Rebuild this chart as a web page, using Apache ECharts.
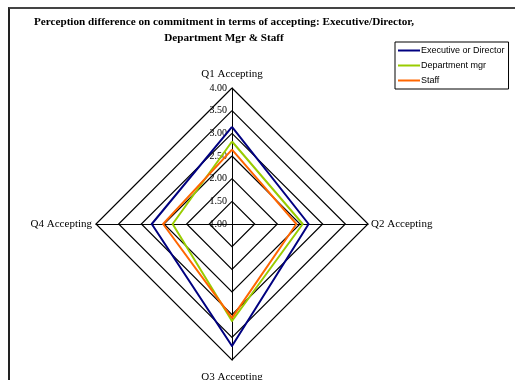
<!DOCTYPE html>
<html>
<head>
<meta charset="utf-8">
<script src="https://cdn.jsdelivr.net/npm/echarts@6/dist/echarts.min.js"></script>
<style>
  html, body { margin: 0; padding: 0; background: #fff; }
  #frame { position: absolute; left: 8px; top: 7px; width: 520px; height: 390px;
           border-left: 2px solid #222; border-top: 2px solid #444; }
  #chart { position: absolute; left: 0; top: 0; width: 515px; height: 380px; }
</style>
</head>
<body>
<div id="frame"></div>
<div id="chart"></div>
<script>
// categories, clockwise from the top
var questions = ['Q1 Accepting', 'Q2 Accepting', 'Q3 Accepting', 'Q4 Accepting'];
var seriesNames = ['Executive or Director', 'Department mgr', 'Staff'];
var executive = [3.14, 2.69, 3.69, 2.77];
var deptMgr = [2.82, 2.56, 3.14, 2.31];
var staff = [2.64, 2.42, 3.07, 2.52];
var colors = ['#000080', '#99CC00', '#FF6600'];

// echarts places indicators counter-clockwise, so feed them in reverse after Q1
var order = [0, 3, 2, 1];
function reorder(arr) {
  return order.map(function (i) { return arr[i]; });
}
// name gaps: top, left, bottom, right (in echarts order)
var gaps = [8, 4, 12, 3];

var myChart = echarts.init(document.getElementById('chart'));

var indicators = reorder(questions).map(function (q, i) {
  var ind = { name: q, min: 1, max: 4, nameGap: gaps[i] };
  if (i === 0) {
    ind.axisLabel = { show: true };
  }
  return ind;
});

var option = {
  animation: false,
  title: {
    text: 'Perception difference on commitment in terms of accepting: Executive/Director,\nDepartment Mgr & Staff',
    left: 219,
    top: 9,
    textAlign: 'center',
    textStyle: {
      fontFamily: 'Liberation Serif',
      fontSize: 11.2,
      fontWeight: 'bold',
      color: '#000',
      lineHeight: 16
    }
  },
  legend: {
    orient: 'vertical',
    left: 395,
    top: 42,
    padding: [4, 4, 4, 3],
    itemGap: 6,
    itemWidth: 22,
    itemHeight: 2,
    borderColor: '#000',
    borderWidth: 1,
    icon: 'rect',
    data: seriesNames,
    textStyle: {
      fontFamily: 'Liberation Sans',
      fontSize: 9,
      color: '#000',
      padding: [0, 0, 0, -4]
    }
  },
  radar: {
    center: [232, 224],
    radius: 136,
    shape: 'polygon',
    splitNumber: 6,
    nameGap: 4,
    indicator: indicators,
    axisName: {
      color: '#000',
      fontFamily: 'Liberation Serif',
      fontSize: 11
    },
    axisLine: { lineStyle: { color: '#000', width: 1 } },
    splitLine: { lineStyle: { color: '#000', width: 1.2 } },
    splitArea: { show: false },
    axisTick: { show: false },
    axisLabel: {
      show: false,
      color: '#000',
      fontFamily: 'Liberation Serif',
      fontSize: 10,
      margin: 5,
      align: 'right',
      verticalAlign: 'middle',
      formatter: function (v) { return Number(v).toFixed(2); }
    }
  },
  series: [{
    type: 'radar',
    symbol: 'none',
    data: [
      { name: seriesNames[0], value: reorder(executive) },
      { name: seriesNames[1], value: reorder(deptMgr) },
      { name: seriesNames[2], value: reorder(staff) }
    ].map(function (d, i) {
      d.lineStyle = { color: colors[i], width: 2 };
      d.itemStyle = { color: colors[i] };
      return d;
    })
  }]
};

myChart.setOption(option);
window.onresize = myChart.resize;
</script>
</body>
</html>
